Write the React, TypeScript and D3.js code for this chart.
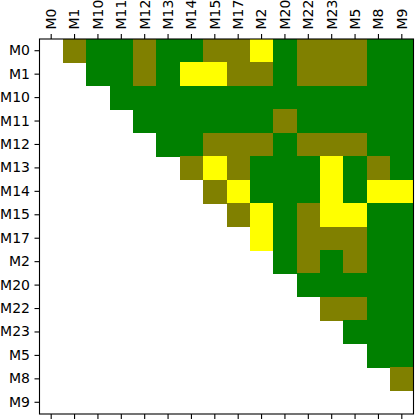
import React, { useRef, useEffect } from "react";
import * as d3 from "d3";

// model labels, same order on both axes
const labels = ["M0", "M1", "M10", "M11", "M12", "M13", "M14", "M15", "M17", "M2", "M20", "M22", "M23", "M5", "M8", "M9"];

// cell level per row: 0 = empty, 1 = olive, 2 = green, 3 = yellow
const rowM0 = [0, 1, 2, 2, 1, 2, 2, 1, 1, 3, 2, 1, 1, 1, 2, 2];
const rowM1 = [0, 0, 2, 2, 1, 2, 3, 3, 1, 1, 2, 1, 1, 1, 2, 2];
const rowM10 = [0, 0, 0, 2, 2, 2, 2, 2, 2, 2, 2, 2, 2, 2, 2, 2];
const rowM11 = [0, 0, 0, 0, 2, 2, 2, 2, 2, 2, 1, 2, 2, 2, 2, 2];
const rowM12 = [0, 0, 0, 0, 0, 2, 2, 1, 1, 1, 2, 1, 1, 1, 2, 2];
const rowM13 = [0, 0, 0, 0, 0, 0, 1, 3, 1, 2, 2, 2, 3, 2, 1, 2];
const rowM14 = [0, 0, 0, 0, 0, 0, 0, 1, 3, 2, 2, 2, 3, 2, 3, 3];
const rowM15 = [0, 0, 0, 0, 0, 0, 0, 0, 1, 3, 2, 1, 3, 3, 2, 2];
const rowM17 = [0, 0, 0, 0, 0, 0, 0, 0, 0, 3, 2, 1, 1, 1, 2, 2];
const rowM2 = [0, 0, 0, 0, 0, 0, 0, 0, 0, 0, 2, 1, 2, 1, 2, 2];
const rowM20 = [0, 0, 0, 0, 0, 0, 0, 0, 0, 0, 0, 2, 2, 2, 2, 2];
const rowM22 = [0, 0, 0, 0, 0, 0, 0, 0, 0, 0, 0, 0, 1, 1, 2, 2];
const rowM23 = [0, 0, 0, 0, 0, 0, 0, 0, 0, 0, 0, 0, 0, 2, 2, 2];
const rowM5 = [0, 0, 0, 0, 0, 0, 0, 0, 0, 0, 0, 0, 0, 0, 2, 2];
const rowM8 = [0, 0, 0, 0, 0, 0, 0, 0, 0, 0, 0, 0, 0, 0, 0, 1];
const rowM9 = [0, 0, 0, 0, 0, 0, 0, 0, 0, 0, 0, 0, 0, 0, 0, 0];

const rows = [rowM0, rowM1, rowM10, rowM11, rowM12, rowM13, rowM14, rowM15, rowM17, rowM2, rowM20, rowM22, rowM23, rowM5, rowM8, rowM9];

const levelColors = ["#ffffff", "#808000", "#008000", "#ffff00"];

const W = 415;
const H = 420;
const margin = { top: 39, left: 39.5, right: 1.5, bottom: 6 };

const App = () => {
  const ref = useRef<SVGSVGElement>(null);

  useEffect(() => {
    if (!ref.current) return;
    const svg = d3.select(ref.current);
    svg.selectAll("*").remove();

    const x0 = margin.left;
    const x1 = W - margin.right;
    const y0 = margin.top;
    const y1 = H - margin.bottom;

    const x = d3.scaleBand().domain(labels).range([x0, x1]);
    const y = d3.scaleBand().domain(labels).range([y0, y1]);
    const color = d3.scaleOrdinal<number, string>().domain([0, 1, 2, 3]).range(levelColors);

    const cells = rows.flatMap((row, i) =>
      row.map((v, j) => ({ r: labels[i], c: labels[j], v }))
    );

    svg
      .append("g")
      .attr("shape-rendering", "crispEdges")
      .selectAll("rect")
      .data(cells.filter((d) => d.v > 0))
      .enter()
      .append("rect")
      .attr("x", (d) => x(d.c)!)
      .attr("y", (d) => y(d.r)!)
      .attr("width", x.bandwidth() + 0.6)
      .attr("height", y.bandwidth() + 0.6)
      .attr("fill", (d) => color(d.v));

    const font = "DejaVu Sans, sans-serif";
    const fs = 14;

    // top axis
    const top = svg
      .append("g")
      .attr("transform", `translate(0,${y0})`)
      .call(d3.axisTop(x).tickSize(5).tickPadding(4.5));
    top.select(".domain").remove();
    top
      .selectAll("text")
      .attr("transform", "rotate(-90)")
      .attr("text-anchor", "start")
      .attr("x", 9.5)
      .attr("y", 0)
      .attr("dy", "0.35em");

    // bottom axis, ticks only
    const bottom = svg
      .append("g")
      .attr("transform", `translate(0,${y1})`)
      .call(d3.axisBottom(x).tickSize(5));
    bottom.select(".domain").remove();
    bottom.selectAll("text").remove();

    // left axis
    const left = svg
      .append("g")
      .attr("transform", `translate(${x0},0)`)
      .call(d3.axisLeft(y).tickSize(5).tickPadding(4.5));
    left.select(".domain").remove();

    svg
      .selectAll(".tick line")
      .attr("stroke", "#000")
      .attr("stroke-width", 1.1);
    svg
      .selectAll(".tick text")
      .attr("fill", "#000")
      .style("font-family", font)
      .style("font-size", `${fs}px`);

    // frame
    svg
      .append("rect")
      .attr("x", x0)
      .attr("y", y0)
      .attr("width", x1 - x0)
      .attr("height", y1 - y0)
      .attr("fill", "none")
      .attr("stroke", "#000")
      .attr("stroke-width", 1.1);
  }, []);

  return (
    <svg
      ref={ref}
      width={W}
      height={H}
      style={{ position: "absolute", left: 0, top: 0, background: "#fff" }}
    />
  );
};

export default App;
